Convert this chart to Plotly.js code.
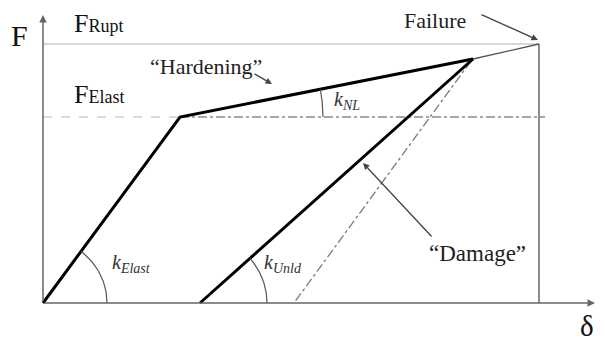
<!DOCTYPE html>
<html>
<head>
<meta charset="utf-8">
<script src="https://cdn.plot.ly/plotly-3.0.1.min.js"></script>
<style>html,body{margin:0;padding:0;background:#fff;}#chart{width:605px;height:345px;}</style>
</head>
<body>
<div id="chart"></div>
<script>
// Schematic force–displacement law (units: arbitrary)
const loadDelta = [0, 137, 430];        // origin, elastic limit, unloading point
const loadForce = [0, 186, 244];
const failDelta = [430, 496];           // hardening continued up to failure
const failForce = [244, 259];
const unloadDelta = [430, 157];         // damaged unloading branch
const unloadForce = [244, 0];
const refDelta = [428, 251];            // reference line parallel to elastic slope
const refForce = [242, 0];
const F_ELAST = 186;
const F_RUPT = 259;
const DELTA_RUPT = 496;
const elastLineEnd = 502;
const yAxisTop = 288;
const xAxisEnd = 552;

function arc(cx, cy, r, px, py) {
  const a1 = Math.atan2(py - cy, px - cx);
  const xs = [], ys = [];
  for (let i = 0; i <= 40; i++) {
    const a = a1 * i / 40;
    xs.push(cx + r * Math.cos(a));
    ys.push(cy + r * Math.sin(a));
  }
  return {x: xs, y: ys};
}

const thin = '#6f6f6f';
const traces = [];
function line(x, y, color, width, dash) {
  traces.push({x: x, y: y, mode: 'lines', type: 'scatter', hoverinfo: 'skip',
    line: {color: color, width: width, dash: dash || 'solid'}});
}
// reference lines
line([0, DELTA_RUPT], [F_RUPT, F_RUPT], '#b0b0b0', 1.2);
line([0, loadDelta[1]], [F_ELAST, F_ELAST], '#b8b8b8', 1.2, 'dash');
line([loadDelta[1], elastLineEnd], [F_ELAST, F_ELAST], '#8a8a8a', 1.3, 'dashdot');
line([DELTA_RUPT, DELTA_RUPT], [0, F_RUPT], thin, 1.6);
line(refDelta, refForce, '#7a7a7a', 1.3, 'dashdot');
line(failDelta, failForce, '#555', 1.3);
// main law
line(loadDelta, loadForce, '#000', 3);
line(unloadDelta, unloadForce, '#000', 3);
// angle arcs
const a1 = arc(loadDelta[0], loadForce[0], 64, loadDelta[1], loadForce[1]);
line(a1.x, a1.y, '#555', 1.2);
const a2 = arc(unloadDelta[1], unloadForce[1], 67, unloadDelta[0], unloadForce[0]);
line(a2.x, a2.y, '#555', 1.2);
const a3 = arc(loadDelta[1], loadForce[1], 143, loadDelta[2], loadForce[2]);
line(a3.x, a3.y, '#555', 1.2);

const serif = 'Liberation Serif, Times New Roman, serif';
function txt(x, y, text, size, xanchor, color) {
  return {x: x, y: y, xref: 'x', yref: 'y', text: text, showarrow: false,
    xanchor: xanchor || 'center', yanchor: 'middle',
    font: {family: serif, size: size, color: color || '#111'}};
}
function arrow(x0, y0, x1, y1, color, width) {
  return {x: x1, y: y1, ax: x0, ay: y0, xref: 'x', yref: 'y', axref: 'x', ayref: 'y',
    text: '', showarrow: true, arrowhead: 2, arrowsize: 1, arrowwidth: width || 1.3,
    arrowcolor: color || '#444'};
}

const annotations = [
  arrow(0, 0, 0, yAxisTop, '#666', 1.5),
  arrow(0, 0, xAxisEnd, 0, '#666', 1.5),
  txt(-24, 268, 'F', 30),
  txt(29, 280, "F<span style='font-size:18px'>Rupt</span>", 26, 'left'),
  txt(29, 209, "F<span style='font-size:18px'>Elast</span>", 26, 'left'),
  txt(163, 237, '“Hardening”', 22, 'center', '#222'),
  arrow(210, 230, 229, 219, '#444', 1.3),
  txt(392, 283, 'Failure', 22, 'center', '#222'),
  arrow(437, 289, 495, 263, '#444', 1.3),
  txt(289, 203, '<i>k<sub>NL</sub></i>', 20, 'left', '#333'),
  txt(67, 40, '<i>k<sub>Elast</sub></i>', 20, 'left', '#333'),
  txt(219, 40, '<i>k<sub>Unld</sub></i>', 20, 'left', '#333'),
  txt(434, 50, '“Damage”', 23, 'center', '#222'),
  arrow(390, 65, 320, 140, '#444', 1.3),
  txt(544, -23, 'δ', 29)
];

const layout = {
  width: 605, height: 345,
  margin: {l: 0, r: 0, t: 0, b: 0},
  paper_bgcolor: '#fff', plot_bgcolor: '#fff',
  showlegend: false,
  xaxis: {range: [-43, 562], visible: false, fixedrange: true},
  yaxis: {range: [-42, 303], visible: false, fixedrange: true},
  annotations: annotations
};
Plotly.newPlot('chart', traces, layout, {staticPlot: true, displayModeBar: false});
</script>
</body>
</html>
